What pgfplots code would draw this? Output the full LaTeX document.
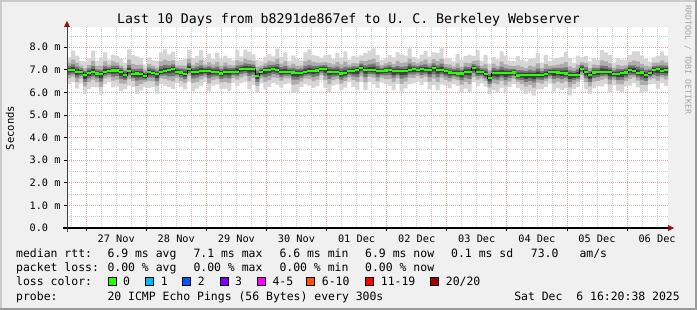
\documentclass[border=0pt]{standalone}
\usepackage{pgfplots}
\pgfplotsset{compat=1.18}
\usepackage{pgfplotstable}
\usepgfplotslibrary{fillbetween}
\usepackage{fontspec}
\setmainfont{DejaVu Sans Mono}
\setmonofont{DejaVu Sans Mono}
\definecolor{bgc}{HTML}{F0F0F0}
\definecolor{shA}{HTML}{CBCBCB}
\definecolor{shB}{HTML}{999999}
\definecolor{mgrid}{HTML}{EBA8A8}
\definecolor{mingrid}{HTML}{CFCFCF}
\definecolor{arrowc}{HTML}{8B1515}
\definecolor{s1}{HTML}{D6D6D6}
\definecolor{s2}{HTML}{ADADAD}
\definecolor{s3}{HTML}{777777}
\definecolor{s4}{HTML}{404040}
\definecolor{c0}{HTML}{26FF00}
\definecolor{c1}{HTML}{00B8FF}
\definecolor{c2}{HTML}{0059FF}
\definecolor{c3}{HTML}{7E00FF}
\definecolor{c4}{HTML}{FF00FF}
\definecolor{c5}{HTML}{FF5500}
\definecolor{c6}{HTML}{FF0000}
\definecolor{c7}{HTML}{A10000}
\pgfplotstableread{
i m l1 h1 l2 h2 l3 h3 l4 h4
0 7.00 6.38 7.55 6.62 7.32 6.78 7.18 6.88 7.09
1 7.00 6.45 7.85 6.70 7.45 6.82 7.24 6.90 7.12
2 6.92 6.17 7.62 6.47 7.32 6.65 7.14 6.78 7.02
3 6.90 6.40 7.40 6.62 7.18 6.74 7.06 6.81 6.99
4 6.77 5.92 7.37 6.27 7.07 6.47 6.94 6.60 6.86
5 6.86 6.16 7.51 6.46 7.21 6.62 7.06 6.73 6.96
6 6.90 6.25 7.85 6.55 7.40 6.70 7.17 6.79 7.04
7 6.84 6.22 7.39 6.46 7.16 6.62 7.02 6.72 6.93
8 6.80 5.90 7.55 6.25 7.18 6.48 7.00 6.63 6.90
9 6.92 6.37 7.77 6.62 7.37 6.74 7.16 6.82 7.04
10 6.95 6.45 7.45 6.67 7.23 6.79 7.11 6.86 7.04
11 6.97 6.22 7.67 6.52 7.37 6.70 7.19 6.83 7.07
12 6.97 6.27 7.62 6.57 7.32 6.73 7.17 6.84 7.07
13 6.90 6.05 7.50 6.40 7.20 6.60 7.07 6.73 6.99
14 6.77 6.15 7.32 6.39 7.09 6.55 6.95 6.65 6.86
15 6.95 6.30 7.90 6.60 7.45 6.75 7.22 6.84 7.09
16 6.80 6.25 7.65 6.50 7.25 6.62 7.04 6.70 6.92
17 6.84 5.94 7.59 6.29 7.22 6.52 7.04 6.67 6.94
18 6.83 6.08 7.53 6.38 7.23 6.56 7.05 6.69 6.93
19 6.73 6.23 7.23 6.45 7.01 6.57 6.89 6.64 6.82
20 6.90 6.20 7.55 6.50 7.25 6.66 7.10 6.77 7.00
21 6.87 6.25 7.42 6.49 7.19 6.65 7.05 6.75 6.96
22 6.80 5.95 7.40 6.30 7.10 6.50 6.97 6.63 6.89
23 6.92 6.37 7.77 6.62 7.37 6.74 7.16 6.82 7.04
24 6.95 6.30 7.90 6.60 7.45 6.75 7.22 6.84 7.09
25 6.98 6.23 7.68 6.53 7.38 6.71 7.20 6.84 7.08
26 7.04 6.14 7.79 6.49 7.42 6.72 7.24 6.87 7.14
27 6.92 6.42 7.42 6.64 7.20 6.76 7.08 6.83 7.01
28 6.88 6.26 7.43 6.50 7.20 6.66 7.06 6.76 6.97
29 6.83 6.13 7.48 6.43 7.18 6.59 7.03 6.70 6.93
30 7.04 6.49 7.89 6.74 7.49 6.86 7.28 6.94 7.16
31 6.92 6.07 7.52 6.42 7.22 6.62 7.09 6.75 7.01
32 6.92 6.17 7.62 6.47 7.32 6.65 7.14 6.78 7.02
33 6.93 6.28 7.88 6.58 7.43 6.73 7.20 6.82 7.07
34 6.95 6.45 7.45 6.67 7.23 6.79 7.11 6.86 7.04
35 6.95 6.05 7.70 6.40 7.33 6.63 7.15 6.78 7.05
36 6.92 6.30 7.47 6.54 7.24 6.70 7.10 6.80 7.01
37 6.90 6.35 7.75 6.60 7.35 6.72 7.14 6.80 7.02
38 6.84 6.14 7.49 6.44 7.19 6.60 7.04 6.71 6.94
39 6.92 6.17 7.62 6.47 7.32 6.65 7.14 6.78 7.02
40 6.92 6.07 7.52 6.42 7.22 6.62 7.09 6.75 7.01
41 6.92 6.42 7.42 6.64 7.20 6.76 7.08 6.83 7.01
42 6.92 6.27 7.87 6.57 7.42 6.72 7.19 6.81 7.06
43 7.04 6.42 7.59 6.66 7.36 6.82 7.22 6.92 7.13
44 7.04 6.49 7.89 6.74 7.49 6.86 7.28 6.94 7.16
45 7.05 6.15 7.80 6.50 7.43 6.73 7.25 6.88 7.15
46 7.03 6.33 7.68 6.63 7.38 6.79 7.23 6.90 7.13
47 6.74 5.99 7.44 6.29 7.14 6.47 6.96 6.60 6.84
48 6.90 6.40 7.40 6.62 7.18 6.74 7.06 6.81 6.99
49 6.98 6.13 7.58 6.48 7.28 6.68 7.15 6.81 7.07
50 7.00 6.25 7.70 6.55 7.40 6.73 7.22 6.86 7.10
51 7.04 6.42 7.59 6.66 7.36 6.82 7.22 6.92 7.13
52 6.99 6.34 7.94 6.64 7.49 6.79 7.26 6.88 7.13
53 6.92 6.22 7.57 6.52 7.27 6.68 7.12 6.79 7.02
54 6.92 6.37 7.77 6.62 7.37 6.74 7.16 6.82 7.04
55 6.90 6.40 7.40 6.62 7.18 6.74 7.06 6.81 6.99
56 6.88 5.98 7.63 6.33 7.26 6.56 7.08 6.71 6.98
57 6.87 6.02 7.47 6.37 7.17 6.57 7.04 6.70 6.96
58 6.87 6.25 7.42 6.49 7.19 6.65 7.05 6.75 6.96
59 6.92 6.37 7.77 6.62 7.37 6.74 7.16 6.82 7.04
60 6.95 6.30 7.90 6.60 7.45 6.75 7.22 6.84 7.09
61 6.95 6.20 7.65 6.50 7.35 6.68 7.17 6.81 7.05
62 6.97 6.27 7.62 6.57 7.32 6.73 7.17 6.84 7.07
63 7.04 6.54 7.54 6.76 7.32 6.88 7.20 6.95 7.13
64 7.04 6.19 7.64 6.54 7.34 6.74 7.21 6.87 7.13
65 6.92 6.02 7.67 6.37 7.30 6.60 7.12 6.75 7.02
66 6.92 6.30 7.47 6.54 7.24 6.70 7.10 6.80 7.01
67 6.90 6.35 7.75 6.60 7.35 6.72 7.14 6.80 7.02
68 6.84 6.09 7.54 6.39 7.24 6.57 7.06 6.70 6.94
69 6.86 6.21 7.81 6.51 7.36 6.66 7.13 6.75 7.00
70 6.95 6.45 7.45 6.67 7.23 6.79 7.11 6.86 7.04
71 6.95 6.25 7.60 6.55 7.30 6.71 7.15 6.82 7.05
72 6.98 6.13 7.58 6.48 7.28 6.68 7.15 6.81 7.07
73 7.09 6.47 7.64 6.71 7.41 6.87 7.27 6.97 7.18
74 7.00 6.10 7.75 6.45 7.38 6.68 7.20 6.83 7.10
75 7.00 6.45 7.85 6.70 7.45 6.82 7.24 6.90 7.12
76 7.00 6.35 7.95 6.65 7.50 6.80 7.27 6.89 7.14
77 6.95 6.20 7.65 6.50 7.35 6.68 7.17 6.81 7.05
78 6.93 6.43 7.43 6.65 7.21 6.77 7.09 6.84 7.02
79 6.97 6.35 7.52 6.59 7.29 6.75 7.15 6.85 7.06
80 7.00 6.30 7.65 6.60 7.35 6.76 7.20 6.87 7.10
81 6.95 6.10 7.55 6.45 7.25 6.65 7.12 6.78 7.04
82 6.93 6.38 7.78 6.63 7.38 6.75 7.17 6.83 7.05
83 6.93 6.03 7.68 6.38 7.31 6.61 7.13 6.76 7.03
84 6.93 6.18 7.63 6.48 7.33 6.66 7.15 6.79 7.03
85 7.00 6.35 7.95 6.65 7.50 6.80 7.27 6.89 7.14
86 7.02 6.40 7.57 6.64 7.34 6.80 7.20 6.90 7.11
87 7.00 6.50 7.50 6.72 7.28 6.84 7.16 6.91 7.09
88 7.02 6.32 7.67 6.62 7.37 6.78 7.22 6.89 7.12
89 7.00 6.45 7.85 6.70 7.45 6.82 7.24 6.90 7.12
90 6.98 6.13 7.58 6.48 7.28 6.68 7.15 6.81 7.07
91 7.07 6.32 7.77 6.62 7.47 6.80 7.29 6.93 7.17
92 7.00 6.10 7.75 6.45 7.38 6.68 7.20 6.83 7.10
93 7.00 6.35 7.95 6.65 7.50 6.80 7.27 6.89 7.14
94 6.93 6.31 7.48 6.55 7.25 6.71 7.11 6.81 7.02
95 6.88 6.18 7.53 6.48 7.23 6.64 7.08 6.75 6.98
96 6.87 6.37 7.37 6.59 7.15 6.71 7.03 6.78 6.96
97 6.84 6.29 7.69 6.54 7.29 6.66 7.08 6.74 6.96
98 6.84 5.99 7.44 6.34 7.14 6.54 7.01 6.67 6.93
99 6.92 6.17 7.62 6.47 7.32 6.65 7.14 6.78 7.02
100 6.92 6.02 7.67 6.37 7.30 6.60 7.12 6.75 7.02
101 7.07 6.45 7.62 6.69 7.39 6.85 7.25 6.95 7.16
102 6.92 6.27 7.87 6.57 7.42 6.72 7.19 6.81 7.06
103 6.90 6.40 7.40 6.62 7.18 6.74 7.06 6.81 6.99
104 6.81 6.26 7.66 6.51 7.26 6.63 7.05 6.71 6.93
105 6.62 5.92 7.27 6.22 6.97 6.38 6.82 6.49 6.72
106 6.86 6.11 7.56 6.41 7.26 6.59 7.08 6.72 6.96
107 6.86 6.01 7.46 6.36 7.16 6.56 7.03 6.69 6.95
108 6.86 6.21 7.81 6.51 7.36 6.66 7.13 6.75 7.00
109 6.86 5.96 7.61 6.31 7.24 6.54 7.06 6.69 6.96
110 6.86 6.24 7.41 6.48 7.18 6.64 7.04 6.74 6.95
111 6.88 6.38 7.38 6.60 7.16 6.72 7.04 6.79 6.97
112 6.75 6.20 7.60 6.45 7.20 6.57 6.99 6.65 6.87
113 6.78 6.08 7.43 6.38 7.13 6.54 6.98 6.65 6.88
114 6.77 5.92 7.37 6.27 7.07 6.47 6.94 6.60 6.86
115 6.78 6.03 7.48 6.33 7.18 6.51 7.00 6.64 6.88
116 6.76 5.86 7.51 6.21 7.14 6.44 6.96 6.59 6.86
117 6.78 6.13 7.73 6.43 7.28 6.58 7.05 6.67 6.92
118 6.77 6.15 7.32 6.39 7.09 6.55 6.95 6.65 6.86
119 6.80 6.25 7.65 6.50 7.25 6.62 7.04 6.70 6.92
120 6.89 6.39 7.39 6.61 7.17 6.73 7.05 6.80 6.98
121 6.90 6.05 7.50 6.40 7.20 6.60 7.07 6.73 6.99
122 6.88 6.18 7.53 6.48 7.23 6.64 7.08 6.75 6.98
123 6.86 6.11 7.56 6.41 7.26 6.59 7.08 6.72 6.96
124 6.84 6.19 7.79 6.49 7.34 6.64 7.11 6.73 6.98
125 6.77 5.87 7.52 6.22 7.15 6.45 6.97 6.60 6.87
126 6.76 6.14 7.31 6.38 7.08 6.54 6.94 6.64 6.85
127 6.78 6.23 7.63 6.48 7.23 6.60 7.02 6.68 6.90
128 7.05 6.55 7.55 6.77 7.33 6.89 7.21 6.96 7.14
129 6.90 6.15 7.60 6.45 7.30 6.63 7.12 6.76 7.00
130 6.77 5.92 7.37 6.27 7.07 6.47 6.94 6.60 6.86
131 6.88 6.18 7.53 6.48 7.23 6.64 7.08 6.75 6.98
132 6.89 6.27 7.44 6.51 7.21 6.67 7.07 6.77 6.98
133 6.92 6.27 7.87 6.57 7.42 6.72 7.19 6.81 7.06
134 6.92 6.37 7.77 6.62 7.37 6.74 7.16 6.82 7.04
135 6.90 6.00 7.65 6.35 7.28 6.58 7.10 6.73 7.00
136 6.82 6.32 7.32 6.54 7.10 6.66 6.98 6.73 6.91
137 6.82 6.07 7.52 6.37 7.22 6.55 7.04 6.68 6.92
138 6.86 6.01 7.46 6.36 7.16 6.56 7.03 6.69 6.95
139 6.88 6.26 7.43 6.50 7.20 6.66 7.06 6.76 6.97
140 7.00 6.30 7.65 6.60 7.35 6.76 7.20 6.87 7.10
141 6.96 6.41 7.81 6.66 7.41 6.78 7.20 6.86 7.08
142 6.87 6.22 7.82 6.52 7.37 6.67 7.14 6.76 7.01
143 6.88 5.98 7.63 6.33 7.26 6.56 7.08 6.71 6.98
144 6.78 6.03 7.48 6.33 7.18 6.51 7.00 6.64 6.88
145 6.86 6.36 7.36 6.58 7.14 6.70 7.02 6.77 6.95
146 7.00 6.38 7.55 6.62 7.32 6.78 7.16 6.88 7.09
147 7.02 6.17 7.62 6.52 7.32 6.72 7.19 6.85 7.11
148 6.96 6.41 7.81 6.66 7.41 6.78 7.20 6.86 7.08
149 6.98 6.28 7.63 6.58 7.33 6.74 7.18 6.85 7.08
150 6.98 6.23 7.68 6.53 7.38 6.71 7.20 6.84 7.08
}\smoke
\tikzset{lg/.style={anchor=base west, inner sep=0pt, font=\fontsize{11.5}{13}\selectfont},
 lgbox/.style={draw=black, line width=0.8bp}}
\begin{document}
\begin{tikzpicture}
\begin{axis}[
  set layers,
  at={(0,0)}, anchor=south west, scale only axis,
  width=601bp, height=201bp,
  xmin=0, xmax=150, ymin=0, ymax=8.894,
  clip=false,
  axis line style={draw=none},
  tick pos=left, tick align=outside,
  major tick length=3bp, minor tick length=0pt,
  tick style={black, line width=0.8bp},
  xtick={4.785,19.785,...,139.785},
  xticklabels={27 Nov,28 Nov,29 Nov,30 Nov,01 Dec,02 Dec,03 Dec,04 Dec,05 Dec,06 Dec},
  minor xtick={1.035,4.785,...,147.3},
  ytick={0,1,...,8},
  yticklabels={0.0\hphantom{\ m},1.0 m,2.0 m,3.0 m,4.0 m,5.0 m,6.0 m,7.0 m,8.0 m},
  minor ytick={0.5,1.5,...,8.5},
  grid=both,
  major grid style={mgrid, line width=0.8bp, dash pattern=on 1bp off 1bp},
  minor grid style={mingrid, line width=0.8bp, dash pattern=on 1bp off 1bp},
  ticklabel style={font=\fontsize{10.3}{12}\selectfont},
  xticklabel style={xshift=30bp},
]
\begin{pgfonlayer}{axis background}
\fill[bgc] ([shift={(-67bp,-82bp)}]rel axis cs:0,0) rectangle ([shift={(630bp,228bp)}]rel axis cs:0,0);
\fill[shA] ([shift={(-67bp,-82bp)}]rel axis cs:0,0) rectangle ([shift={(-65bp,228bp)}]rel axis cs:0,0);
\fill[shA] ([shift={(-67bp,226bp)}]rel axis cs:0,0) rectangle ([shift={(630bp,228bp)}]rel axis cs:0,0);
\fill[shB] ([shift={(628bp,-82bp)}]rel axis cs:0,0) rectangle ([shift={(630bp,228bp)}]rel axis cs:0,0);
\fill[shB] ([shift={(-67bp,-82bp)}]rel axis cs:0,0) rectangle ([shift={(630bp,-80bp)}]rel axis cs:0,0);
\fill[white] (rel axis cs:0,0) rectangle (rel axis cs:1,1);
\end{pgfonlayer}
\addplot[draw=none, const plot, name path=L1] table[x=i,y=l1]{\smoke};
\addplot[draw=none, const plot, name path=H1] table[x=i,y=h1]{\smoke};
\addplot[fill=s1, draw=none] fill between[of=L1 and H1];
\addplot[draw=none, const plot, name path=L2] table[x=i,y=l2]{\smoke};
\addplot[draw=none, const plot, name path=H2] table[x=i,y=h2]{\smoke};
\addplot[fill=s2, draw=none] fill between[of=L2 and H2];
\addplot[draw=none, const plot, name path=L3] table[x=i,y=l3]{\smoke};
\addplot[draw=none, const plot, name path=H3] table[x=i,y=h3]{\smoke};
\addplot[fill=s3, draw=none] fill between[of=L3 and H3];
\addplot[draw=none, const plot, name path=L4] table[x=i,y=l4]{\smoke};
\addplot[draw=none, const plot, name path=H4] table[x=i,y=h4]{\smoke};
\addplot[fill=s4, draw=none] fill between[of=L4 and H4];
\addplot[black, line width=0.8bp, const plot] table[x=i,y=m]{\smoke};
\addplot[c0, line width=2.2bp, jump mark left] table[x=i,y=m]{\smoke};
\end{axis}
\draw[black, line width=1.2bp] (-4bp,0) -- (602bp,0);
\fill[arrowc] (607bp,0) -- (601bp,3bp) -- (601bp,-3bp) -- cycle;
\draw[black!75, line width=1bp] (0,-4bp) -- (0,202bp);
\fill[arrowc] (0,207bp) -- (-3bp,201bp) -- (3bp,201bp) -- cycle;
\node[anchor=base, inner sep=0pt, font=\fontsize{13.3}{15}\selectfont] at (281.5bp,204bp) {Last 10 Days from b8291de867ef to U. C. Berkeley Webserver};
\node[rotate=90, inner sep=0pt, font=\fontsize{10.6}{12}\selectfont] at (-57bp,100bp) {Seconds};
\node[rotate=-90, inner sep=0pt, text=black!35, font=\fontsize{8.3}{10}\selectfont] at (621bp,168bp) {RRDTOOL / TOBI OETIKER};
% legend rows
\node[lg] at (-51bp,-29bp) {median rtt:};
\node[lg] at (40.3bp,-29bp) {6.9 ms avg};
\node[lg] at (126.3bp,-29bp) {7.1 ms max};
\node[lg] at (212.3bp,-29bp) {6.6 ms min};
\node[lg] at (298bp,-29bp) {6.9 ms now};
\node[lg] at (384bp,-29bp) {0.1 ms sd};
\node[lg] at (463.7bp,-29bp) {73.0};
\node[lg] at (512.3bp,-29bp) {am/s};
\node[lg] at (-51bp,-43.3bp) {packet loss:};
\node[lg] at (40.3bp,-43.3bp) {0.00 \% avg};
\node[lg] at (126.3bp,-43.3bp) {0.00 \% max};
\node[lg] at (212.3bp,-43.3bp) {0.00 \% min};
\node[lg] at (298bp,-43.3bp) {0.00 \% now};
\node[lg] at (-51bp,-57.6bp) {loss color:};
\filldraw[lgbox, fill=c0] (41.3bp,-57.3bp) rectangle ++(8bp,8bp);
\node[lg] at (56bp,-57.6bp) {0};
\filldraw[lgbox, fill=c1] (78.7bp,-57.3bp) rectangle ++(8bp,8bp);
\node[lg] at (93.7bp,-57.6bp) {1};
\filldraw[lgbox, fill=c2] (115.7bp,-57.3bp) rectangle ++(8bp,8bp);
\node[lg] at (130.7bp,-57.6bp) {2};
\filldraw[lgbox, fill=c3] (153bp,-57.3bp) rectangle ++(8bp,8bp);
\node[lg] at (168bp,-57.6bp) {3};
\filldraw[lgbox, fill=c4] (190.3bp,-57.3bp) rectangle ++(8bp,8bp);
\node[lg] at (205.3bp,-57.6bp) {4-5};
\filldraw[lgbox, fill=c5] (239.7bp,-57.3bp) rectangle ++(8bp,8bp);
\node[lg] at (254.7bp,-57.6bp) {6-10};
\filldraw[lgbox, fill=c6] (298.7bp,-57.3bp) rectangle ++(8bp,8bp);
\node[lg] at (313.7bp,-57.6bp) {11-19};
\filldraw[lgbox, fill=c7] (363.7bp,-57.3bp) rectangle ++(8bp,8bp);
\node[lg] at (378.7bp,-57.6bp) {20/20};
\node[lg] at (-51bp,-72bp) {probe:};
\node[lg] at (40.3bp,-72bp) {20 ICMP Echo Pings (56 Bytes) every 300s};
\node[lg, anchor=base east] at (613bp,-72bp) {Sat Dec\ \ 6 16:20:38 2025};
\pgfresetboundingbox
\path[use as bounding box] (-67bp,-82bp) rectangle (630bp,228bp);
\end{tikzpicture}
\end{document}
